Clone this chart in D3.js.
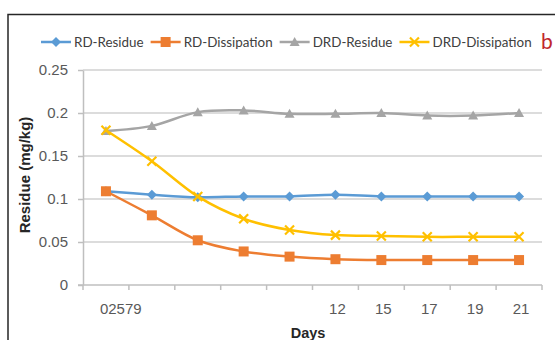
<!DOCTYPE html>
<html>
<head>
<meta charset="utf-8">
<script src="https://cdn.jsdelivr.net/npm/d3@7"></script>
<style>
  html, body { margin: 0; padding: 0; background: #fff; }
  svg { display: block; }
</style>
</head>
<body>
<svg id="chart" width="555" height="340"></svg>
<script>
// Sampling days (categories on the x axis)
const days = ["0", "2", "5", "7", "9", "12", "15", "17", "19", "21"];

// Residue levels in mg/kg for each series
const rdResidue      = [0.109, 0.105, 0.102, 0.103, 0.103, 0.105, 0.103, 0.103, 0.103, 0.103];
const rdDissipation  = [0.109, 0.081, 0.052, 0.039, 0.033, 0.030, 0.029, 0.029, 0.029, 0.029];
const drdResidue     = [0.179, 0.185, 0.201, 0.203, 0.199, 0.199, 0.200, 0.197, 0.197, 0.200];
const drdDissipation = [0.180, 0.144, 0.103, 0.077, 0.064, 0.058, 0.057, 0.056, 0.056, 0.056];

// Y axis tick values
const yTicks = [0, 0.05, 0.1, 0.15, 0.2, 0.25];

const seriesNames = ["RD-Residue", "RD-Dissipation", "DRD-Residue", "DRD-Dissipation"];

const series = [
  { name: seriesNames[0], values: rdResidue,      color: "#5b9bd5", marker: "diamond" },
  { name: seriesNames[1], values: rdDissipation,  color: "#ed7d31", marker: "square" },
  { name: seriesNames[2], values: drdResidue,     color: "#a5a5a5", marker: "triangle" },
  { name: seriesNames[3], values: drdDissipation, color: "#ffc000", marker: "cross" }
];

const svg = d3.select("#chart");
const axisFont = "'Liberation Sans', Arial, sans-serif";
const legendFont = "Lato, 'Open Sans', sans-serif";
const textColor = "#595959";

// Chart frame (runs off the right and bottom edges)
svg.append("rect")
  .attr("x", 8).attr("y", 14.5)
  .attr("width", 560).attr("height", 340)
  .attr("fill", "none")
  .attr("stroke", "#262626")
  .attr("stroke-width", 1.5);

const plot = { left: 83, right: 542, top: 70, bottom: 285 };

const x = d3.scaleBand().domain(days).range([plot.left, plot.right]);
const y = d3.scaleLinear().domain([0, 0.25]).range([plot.bottom, plot.top]);
const cx = d => x(d) + x.bandwidth() / 2;

// Horizontal gridlines
svg.append("g")
  .selectAll("line")
  .data(yTicks.filter(t => t > 0))
  .join("line")
  .attr("x1", plot.left).attr("x2", plot.right)
  .attr("y1", d => y(d)).attr("y2", d => y(d))
  .attr("stroke", "#d0d0d0")
  .attr("stroke-width", 1.5);

// Y axis
const yAxis = svg.append("g")
  .attr("transform", `translate(${plot.left},0)`)
  .call(d3.axisLeft(y).tickValues(yTicks).tickFormat(d => String(d)).tickSizeInner(5).tickSizeOuter(0).tickPadding(10));
yAxis.select(".domain").attr("stroke", "#bfbfbf").attr("stroke-width", 1.5);
yAxis.selectAll(".tick line").attr("stroke", "#bfbfbf").attr("stroke-width", 1.5);
yAxis.selectAll(".tick text")
  .attr("font-family", axisFont).attr("font-size", 15).attr("fill", textColor);

// X axis: ticks sit on the category boundaries
const xAxisG = svg.append("g").attr("transform", `translate(0,${plot.bottom})`);
xAxisG.append("line")
  .attr("x1", plot.left - 5).attr("x2", plot.right)
  .attr("y1", 0).attr("y2", 0)
  .attr("stroke", "#bfbfbf").attr("stroke-width", 1.5);
const boundaries = days.map(d => x(d) + x.bandwidth()).concat([x(days[0])]);
xAxisG.selectAll("line.tk")
  .data(boundaries)
  .join("line")
  .attr("class", "tk")
  .attr("x1", d => d).attr("x2", d => d)
  .attr("y1", 0).attr("y2", 5)
  .attr("stroke", "#bfbfbf").attr("stroke-width", 1.5);

// Category labels: the first five run together into one string
const crowded = days.slice(0, 5);
xAxisG.append("text")
  .attr("x", cx(days[0]) - 6)
  .attr("y", 29)
  .attr("font-family", axisFont).attr("font-size", 15).attr("fill", textColor)
  .text(crowded.join(""));
xAxisG.selectAll("text.lbl")
  .data(days.slice(5))
  .join("text")
  .attr("class", "lbl")
  .attr("x", d => cx(d) + 2)
  .attr("y", 29)
  .attr("text-anchor", "middle")
  .attr("font-family", axisFont).attr("font-size", 15).attr("fill", textColor)
  .text(d => d);

// Axis titles
svg.append("text")
  .attr("transform", `translate(30,175) rotate(-90)`)
  .attr("text-anchor", "middle")
  .attr("font-family", axisFont).attr("font-size", 15).attr("font-weight", "bold")
  .attr("fill", "#262626")
  .text("Residue (mg/kg)");
svg.append("text")
  .attr("x", 308).attr("y", 338)
  .attr("text-anchor", "middle")
  .attr("font-family", axisFont).attr("font-size", 14.5).attr("font-weight", "bold")
  .attr("fill", "#262626")
  .text("Days");

// Marker shapes
function drawMarker(g, type, color) {
  if (type === "diamond") {
    g.append("path").attr("d", "M0,-5L5,0L0,5L-5,0Z").attr("fill", color);
  } else if (type === "square") {
    g.append("rect").attr("x", -5).attr("y", -5).attr("width", 10).attr("height", 10).attr("fill", color);
  } else if (type === "triangle") {
    g.append("path").attr("d", "M0,-5L5,4L-5,4Z").attr("fill", color);
  } else if (type === "cross") {
    g.append("path").attr("d", "M-4.5,-4.5L4.5,4.5M-4.5,4.5L4.5,-4.5")
      .attr("stroke", color).attr("stroke-width", 2.2).attr("fill", "none");
  }
}

const line = d3.line()
  .x((v, i) => cx(days[i]))
  .y(v => y(v))
  .curve(d3.curveCatmullRom.alpha(0));

// Series lines and markers
series.forEach(s => {
  const g = svg.append("g");
  g.append("path")
    .datum(s.values)
    .attr("d", line)
    .attr("fill", "none")
    .attr("stroke", s.color)
    .attr("stroke-width", 2.5)
    .attr("stroke-linejoin", "round");
  s.values.forEach((v, i) => {
    const m = g.append("g").attr("transform", `translate(${cx(days[i])},${y(v)})`);
    drawMarker(m, s.marker, s.color);
  });
});

// Legend along the top
const legend = svg.append("g").attr("transform", "translate(41,42)");
let lx = 0;
series.forEach(s => {
  const item = legend.append("g").attr("transform", `translate(${lx},0)`);
  item.append("line")
    .attr("x1", 0).attr("x2", 30).attr("y1", 0).attr("y2", 0)
    .attr("stroke", s.color).attr("stroke-width", 2.5);
  const m = item.append("g").attr("transform", "translate(15,0)");
  drawMarker(m, s.marker, s.color);
  const t = item.append("text")
    .attr("x", 33).attr("y", 5)
    .attr("font-family", legendFont)
    .attr("font-size", 13.4)
    .attr("fill", "#404040")
    .text(s.name);
  lx += 33 + t.node().getComputedTextLength() + 7;
});

// Panel letter
svg.append("text")
  .attr("x", 541).attr("y", 49)
  .attr("font-family", legendFont)
  .attr("font-size", 21)
  .attr("fill", "#c0272d")
  .text("b");
</script>
</body>
</html>
